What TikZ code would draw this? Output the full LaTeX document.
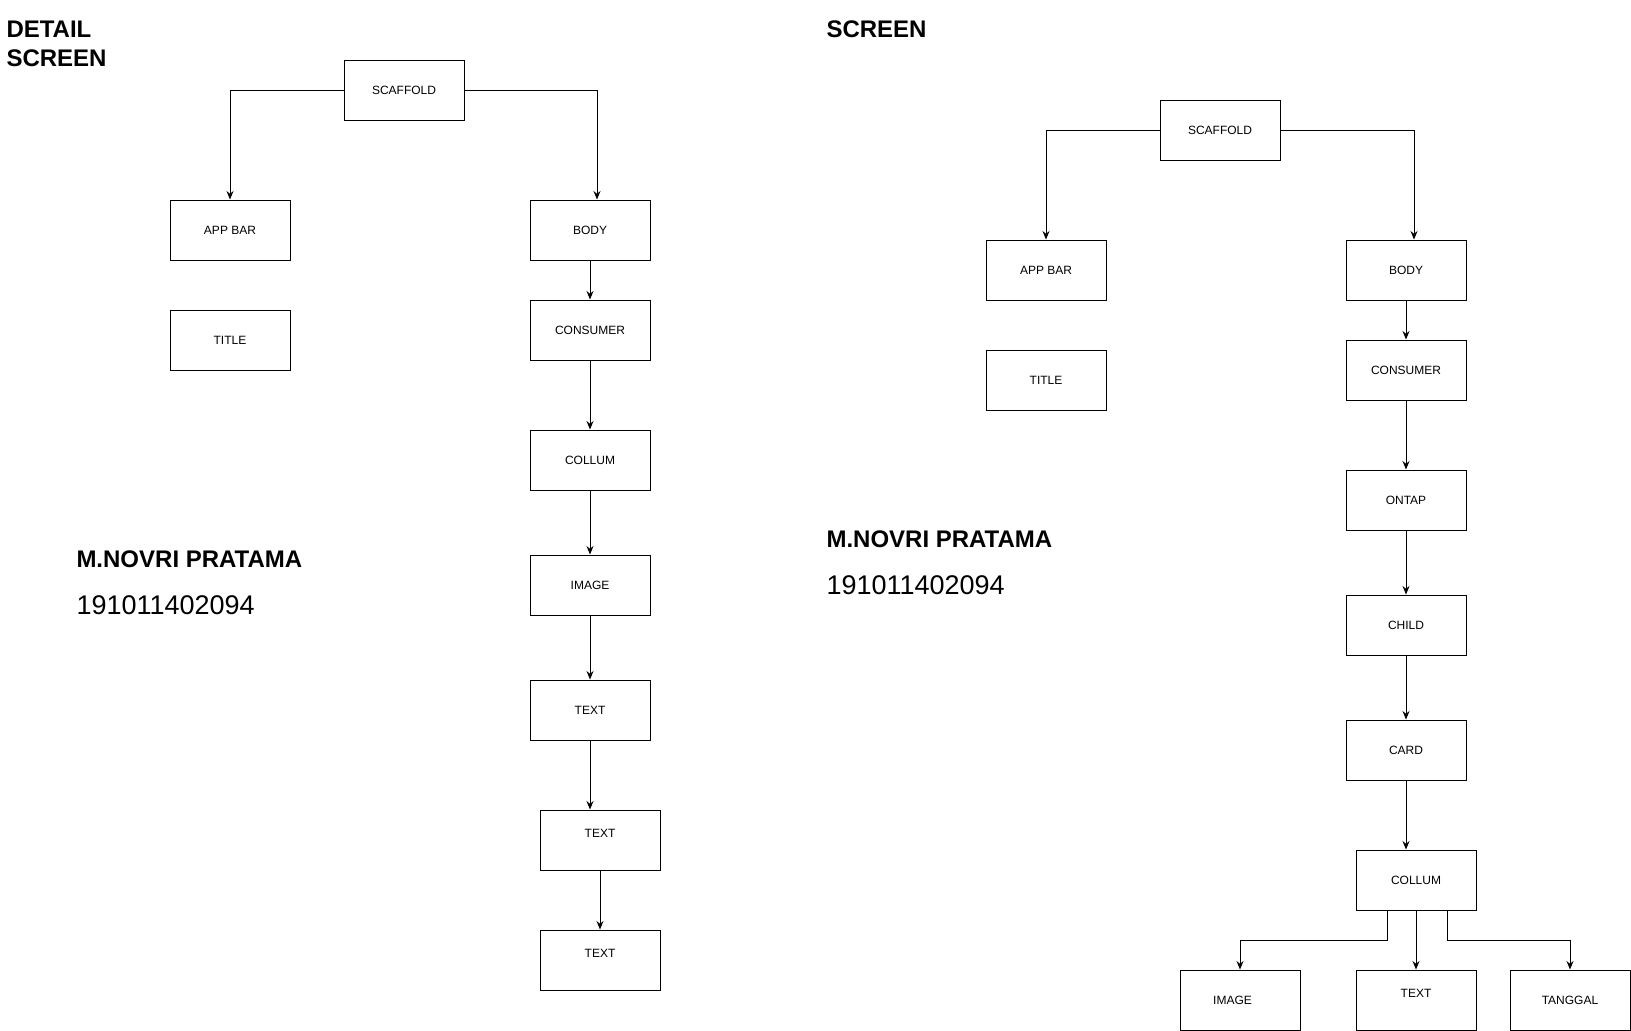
\documentclass[tikz,border=0pt]{standalone}
\usepackage{fontspec}
\setmainfont{Liberation Sans}
\usetikzlibrary{arrows.meta}

\begin{document}
\begin{tikzpicture}[x=1pt,y=-1pt,line width=1pt,
    >={Stealth[length=8.5pt,width=7pt]},
    box/.style={draw,minimum width=120pt,minimum height=60pt,inner sep=0pt,
        font=\fontsize{12}{14}\selectfont},
    hitxt/.style={text depth=14pt},
    head/.style={anchor=base west,inner sep=0pt,font=\fontsize{24}{28}\selectfont\bfseries},
    nama/.style={anchor=base west,inner sep=0pt,font=\fontsize{24}{28}\selectfont\bfseries},
    nim/.style={anchor=base west,inner sep=0pt,font=\fontsize{27}{30}\selectfont}]
    \useasboundingbox (0,0) rectangle (1631,1031);

    % detail screen
    \node[head] (hd1) at (6,37.7) {DETAIL};
    \node[head] (hd2) at (6,66.7) {SCREEN};
    \node[nama] (nm1) at (76,567.7) {M.NOVRI PRATAMA};
    \node[nim]  (id1) at (76,614.7) {191011402094};

    \node[box] (sc1) at (404,90)  {SCAFFOLD};
    \node[box] (ab1) at (230,230) {APP BAR};
    \node[box] (tt1) at (230,340) {TITLE};
    \node[box] (bd1) at (590,230) {BODY};
    \node[box] (cs1) at (590,330) {CONSUMER};
    \node[box] (cl1) at (590,460) {COLLUM};
    \node[box] (im1) at (590,585) {IMAGE};
    \node[box] (tx1) at (590,710) {TEXT};
    \node[box,hitxt] (tx2) at (600,840) {TEXT};
    \node[box,hitxt] (tx3) at (600,960) {TEXT};

    \draw [->] (sc1.west) -| (ab1.north);
    \draw [->] (sc1.east) -| ([xshift=7pt]bd1.north);
    \draw [->] (bd1) -- (cs1);
    \draw [->] (cs1) -- (cl1);
    \draw [->] (cl1) -- (im1);
    \draw [->] (im1) -- (tx1);
    \draw [->] (tx1.south) -- (tx1.south |- tx2.north);
    \draw [->] (tx2) -- (tx3);

    % screen
    \node[head] (hd3) at (826,37.7) {SCREEN};
    \node[nama] (nm2) at (826,547.7) {M.NOVRI PRATAMA};
    \node[nim]  (id2) at (826,594.7) {191011402094};

    \node[box] (sc2) at (1220,130) {SCAFFOLD};
    \node[box] (ab2) at (1046,270) {APP BAR};
    \node[box] (tt2) at (1046,380) {TITLE};
    \node[box] (bd2) at (1406,270) {BODY};
    \node[box] (cs2) at (1406,370) {CONSUMER};
    \node[box] (ot2) at (1406,500) {ONTAP};
    \node[box] (ch2) at (1406,625) {CHILD};
    \node[box] (cd2) at (1406,750) {CARD};
    \node[box] (cl2) at (1416,880) {COLLUM};
    \node[box] (im2) at (1240,1000) {IMAGE\kern15pt};
    \node[box,hitxt] (tx4) at (1416,1000) {TEXT};
    \node[box] (tg2) at (1570,1000) {TANGGAL};

    \draw [->] (sc2.west) -| (ab2.north);
    \draw [->] (sc2.east) -| ([xshift=8pt]bd2.north);
    \draw [->] (bd2) -- (cs2);
    \draw [->] (cs2) -- (ot2);
    \draw [->] (ot2) -- (ch2);
    \draw [->] (ch2) -- (cd2);
    \draw [->] (cd2.south) -- (cd2.south |- cl2.north);
    \draw [->] ([xshift=-29pt]cl2.south) -- ++(0,30) -| (im2.north);
    \draw [->] (cl2) -- (tx4);
    \draw [->] ([xshift=31pt]cl2.south) -- ++(0,30) -| (tg2.north);
\end{tikzpicture}
\end{document}
